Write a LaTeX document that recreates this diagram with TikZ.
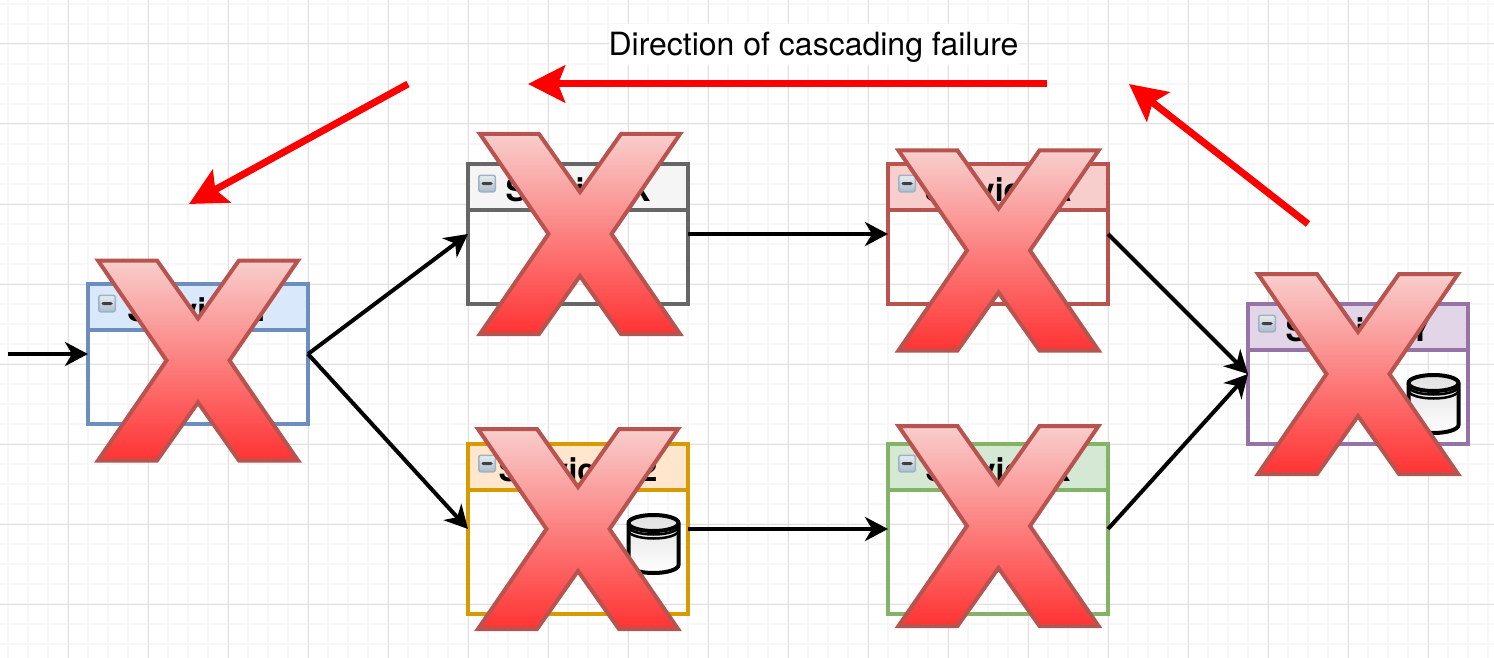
\documentclass[tikz,border=0pt]{standalone}
\usepackage{fontspec}
\setmainfont{TeX Gyre Heros}
\usetikzlibrary{arrows.meta,positioning}

\definecolor{blueline}{HTML}{6C8EBF}
\definecolor{bluefill}{HTML}{DAE8FC}
\definecolor{greyline}{HTML}{666666}
\definecolor{greyfill}{HTML}{F5F5F5}
\definecolor{redline}{HTML}{B85450}
\definecolor{redfill}{HTML}{F8CECC}
\definecolor{orangeline}{HTML}{D79B00}
\definecolor{orangefill}{HTML}{FFE6CC}
\definecolor{greenline}{HTML}{82B366}
\definecolor{greenfill}{HTML}{D5E8D4}
\definecolor{purpleline}{HTML}{9673A6}
\definecolor{purplefill}{HTML}{E1D5E7}
\definecolor{foldtop}{HTML}{E9EEF2}
\definecolor{foldbottom}{HTML}{A8BCCB}
\definecolor{foldline}{HTML}{9FB2C2}

\begin{document}
\begin{tikzpicture}[
  x=1pt, y=-1pt,
  box/.style={draw=#1, line width=3.5pt, outer sep=0pt, minimum width=220pt},
  head/.style 2 args={draw=#1, fill=#2, line width=3.5pt, outer sep=0pt, inner sep=0pt,
    anchor=north, minimum width=220pt, minimum height=46pt,
    font=\fontsize{32}{32}\selectfont\bfseries, text height=28pt, text depth=0pt},
  foldicon/.style={draw=foldline, line width=1.5pt, rounded corners=2pt, minimum size=16.5pt,
    inner sep=0pt, outer sep=0pt, top color=foldtop, bottom color=foldbottom,
    path picture={\fill[black!75] ([xshift=-5.5pt,yshift=-1.5pt]path picture bounding box.center)
      rectangle ([xshift=5.5pt,yshift=1.5pt]path picture bounding box.center);}},
  arrow/.style={-{Stealth[length=23pt,width=24pt,inset=7pt]}, line width=4pt},
  redarrow/.style={-{Stealth[length=37pt,width=37pt,inset=7pt]}, line width=7pt, red},
  failx/.pic={
    \draw[draw=redline, line width=4pt, top color=redfill, bottom color=red!80!white]
      (-100,-100) -- (-41,-100) -- (0,-42) -- (41,-100) -- (100,-100) -- (31.5,0)
      -- (100,100) -- (41,100) -- (0,42) -- (-41,100) -- (-100,100) -- (-31.5,0) -- cycle;
  },
  dbicon/.pic={
    \draw[line width=4pt, top color=black!12, bottom color=white]
      (-25,-21) -- (-25,21) arc[start angle=180, end angle=360, x radius=25, y radius=-8]
      -- (25,-21) arc[start angle=0, end angle=180, x radius=25, y radius=-8] -- cycle;
    \draw[line width=4pt] (-25,-21) arc[start angle=180, end angle=360, x radius=25, y radius=-8];
    \draw[line width=2.5pt] (-25,-17.5) arc[start angle=180, end angle=360, x radius=25, y radius=-8];
    \draw[line width=2.5pt] (-25,-13.5) arc[start angle=180, end angle=360, x radius=25, y radius=-8];
  }
]
\useasboundingbox (0,0) rectangle (1494,658);
% grid
\fill[white] (0,0) rectangle (1494,658);
\foreach \gx in {8,28,...,1488} \draw[black!3, line width=2pt] (\gx,0) -- (\gx,658);
\foreach \gy in {4,24,...,654} \draw[black!3, line width=2pt] (0,\gy) -- (1494,\gy);
\foreach \gx in {68,148,...,1488} \draw[black!12, line width=1pt] (\gx,0) -- (\gx,658);
\foreach \gy in {44,124,...,654} \draw[black!12, line width=1pt] (0,\gy) -- (1494,\gy);

\node[fill=white, inner sep=0pt, minimum width=410pt, minimum height=41pt, text height=23pt,
  text depth=0pt, font=\fontsize{32}{32}\selectfont] (title) at (813.5,44.5) {Direction of cascading failure};

% services
\node[box=blueline, minimum height=140pt] (svc1) at (198,354) {};
\node[box=greyline, minimum height=140pt, right=160pt of svc1, yshift=120pt] (svcx) {};
\node[box=orangeline, minimum height=170pt, right=160pt of svc1, yshift=-175pt] (svc12) {};
\node[box=redline, minimum height=140pt, right=200pt of svcx] (svca) {};
\node[box=greenline, minimum height=170pt, right=200pt of svc12] (svcb) {};
\node[box=purpleline, minimum height=140pt, right=140pt of svca, yshift=-140pt] (svcy) {};

\node[head={blueline}{bluefill}] (svc1h) at (svc1.north) {Service 1};
\node[head={greyline}{greyfill}] (svcxh) at (svcx.north) {Service X};
\node[head={orangeline}{orangefill}] (svc12h) at (svc12.north) {Service 12};
\node[head={redline}{redfill}] (svcah) at (svca.north) {Service A};
\node[head={greenline}{greenfill}] (svcbh) at (svcb.north) {Service X};
\node[head={purpleline}{purplefill}] (svcyh) at (svcy.north) {Service Y};

\foreach \s in {svc1,svcx,svc12,svca,svcb,svcy}
  \node[foldicon, xshift=19pt, yshift=3.5pt] (\s m) at (\s h.west) {};

\pic at ([xshift=-34.5pt,yshift=-54pt]svc12h.south east) {dbicon};
\pic at ([xshift=-34.5pt,yshift=-54pt]svcyh.south east) {dbicon};

% connectors
\coordinate (inlet) at (8,354);
\draw[arrow] (inlet) -- (svc1.west);
\draw[arrow] (svc1.east) -- (svcx.west);
\draw[arrow] (svc1.east) -- (svc12.west);
\draw[arrow] (svcx.east) -- (svca.west);
\draw[arrow] (svc12.east) -- (svcb.west);
\draw[arrow] (svca.east) -- (svcy.west);
\draw[arrow] (svcb.east) -- (svcy.west);

% failure direction
\coordinate (fail1a) at (1308,224);
\coordinate (fail1b) at (1129,84);
\coordinate (fail2a) at (1047,84);
\coordinate (fail2b) at (528,84);
\coordinate (fail3a) at (408,84);
\coordinate (fail3b) at (189,204);
\draw[redarrow] (fail1a) -- (fail1b);
\draw[redarrow] (fail2a) -- (fail2b);
\draw[redarrow] (fail3a) -- (fail3b);

% crosses
\pic at ([yshift=-6.5pt]svc1.center) {failx};
\pic at ([xshift=2pt]svcx.center) {failx};
\pic at (svc12.center) {failx};
\pic at ([xshift=0.5pt,yshift=-16.5pt]svca.center) {failx};
\pic at ([xshift=0.5pt,yshift=3pt]svcb.center) {failx};
\pic at (svcy.center) {failx};
\end{tikzpicture}
\end{document}
